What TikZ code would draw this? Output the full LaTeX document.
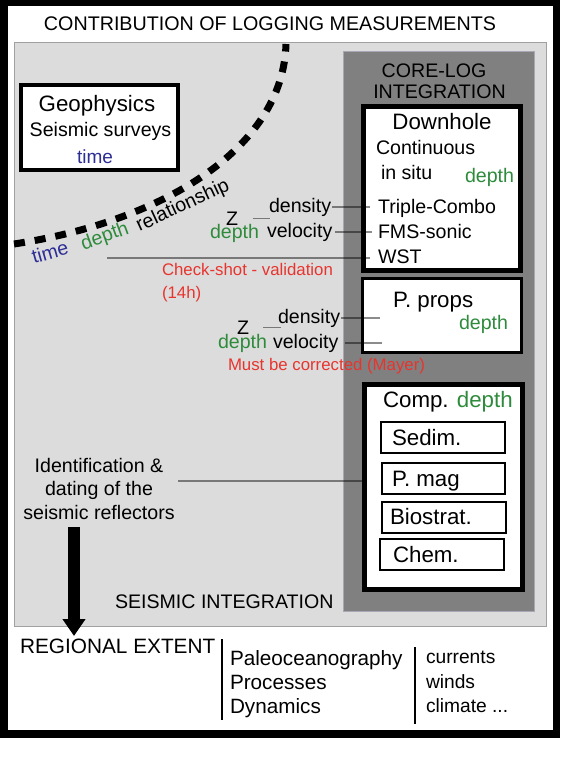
\documentclass[tikz,border=0pt]{standalone}
\usepackage{fontspec}
\setmainfont{Liberation Sans}
\usetikzlibrary{arrows.meta}
\definecolor{lgray}{HTML}{DCDCDC}
\definecolor{lgborder}{HTML}{A0A0A0}
\definecolor{dgray}{HTML}{808080}
\definecolor{dgborder}{HTML}{A8A8B4}
\definecolor{tblue}{HTML}{2D2D96}
\definecolor{tgreen}{HTML}{2E8B3C}
\definecolor{tred}{HTML}{E8342E}
\newcommand\fsz[1]{\fontsize{#1pt}{#1pt}\selectfont}
\begin{document}
\begin{tikzpicture}[x=1pt,y=-1pt,
  txt/.style={inner sep=0pt, outer sep=0pt, anchor=base west, font=\fsz{19.6}},
  ctxt/.style={inner sep=0pt, outer sep=0pt, anchor=base, font=\fsz{19.6}},
  head/.style={font=\fsz{22.3}},
  redtxt/.style={text=tred, font=\fsz{16.8}},
  box/.style={draw=black, fill=white, inner sep=0pt, outer sep=0pt},
  panel/.style={inner sep=0pt, outer sep=0pt, line width=1pt},
  conn/.style={draw=black, draw opacity=0.45, line width=1.2pt},
]
\useasboundingbox (0,0) rectangle (560,763);
\fill[white] (0,0) rectangle (560,763);
\fill[black] (0,0) rectangle (560,738);
\fill[white] (8,6) rectangle (553,730);

% panels
\node[panel, draw=lgborder, fill=lgray, minimum width=532pt, minimum height=584pt] (seis) at (280.5,334.5) {};
\node[panel, draw=dgborder, fill=dgray, minimum width=191pt, minimum height=560pt] (corelog) at (439,331.5) {};

% boxes
\node[box, line width=4pt, minimum width=157pt, minimum height=85pt] (geo) at (99.5,127.5) {};
\node[box, line width=5pt, minimum width=157pt, minimum height=164pt] (down) at (442,188.5) {};
\node[box, line width=3pt, minimum width=159pt, minimum height=74pt] (pprops) at (442,315.5) {};
\node[box, line width=5pt, minimum width=158pt, minimum height=205pt] (comp) at (443.5,487) {};
\node[box, line width=2pt, minimum width=124pt, minimum height=31pt] (sedbox) at (443,437.5) {};
\node[box, line width=2pt, minimum width=123pt, minimum height=31pt] (pmagbox) at (443.5,478.5) {};
\node[box, line width=2pt, minimum width=124pt, minimum height=31pt] (biobox) at (444,517.5) {};
\node[box, line width=2pt, minimum width=124pt, minimum height=31pt] (chembox) at (442,554.5) {};

% time-depth curve
\coordinate (tdA) at (14,244);
\coordinate (tdB) at (286,44);
\draw[line width=7pt, dash pattern=on 11pt off 10pt] (tdA) .. controls (160,222) and (283,150) .. (tdB);

% title and headings
\node[ctxt, font=\fsz{19.7}] (title) at (270,30) {CONTRIBUTION OF LOGGING MEASUREMENTS};
\node[ctxt, head] (geot) at (97,111) {Geophysics};
\node[ctxt] (seisurv) at (100.5,136) {Seismic surveys};
\node[ctxt, text=tblue, font=\fsz{19}] (geotime) at (95,163) {time};

\node[ctxt] (cl1) at (434,77) {CORE-LOG};
\node[ctxt] (cl2) at (439.5,98) {INTEGRATION};

\node[ctxt, head] (downt) at (442,129) {Downhole};
\node[txt] (cont) at (376,154) {Continuous};
\node[txt] (insitu) at (381,179) {in situ};
\node[txt, text=tgreen] (dhdepth) at (465,182) {depth};
\node[txt] (triple) at (378,213) {Triple-Combo};
\node[txt] (fms) at (378,238) {FMS-sonic};
\node[txt] (wst) at (378,263) {WST};

\node[txt, head] (ppt) at (393,307) {P. props};
\node[txt, text=tgreen] (ppdepth) at (459,329) {depth};

\node[txt, head] (compt) at (383,407) {Comp. \textcolor{tgreen}{depth}};
\node[txt, head] (sed) at (392,445) {Sedim.};
\node[txt, head] (pmag) at (392,486) {P. mag};
\node[txt, head] (bio) at (390,524) {Biostrat.};
\node[txt, head] (chem) at (393,562) {Chem.};

% rotated curve labels
\node[inner sep=0pt, text=tblue, font=\fsz{19.6}, rotate=16] (lbtime) at (50,252) {time};
\node[inner sep=0pt, text=tgreen, font=\fsz{19.6}, rotate=20] (lbdepth) at (105,237) {depth};
\node[inner sep=0pt, font=\fsz{19.6}, rotate=25] (lbrel) at (183,206) {relationship};

% first measurement group
\node[txt] (z1) at (226,225) {Z};
\node[txt, text=tgreen] (d1) at (210,238) {depth};
\node[txt] (dens1) at (269,212) {density};
\node[txt] (vel1) at (267,237) {velocity};
\node[txt, redtxt] (chk) at (162,275) {Check-shot - validation};
\node[txt, redtxt] (chk2) at (162,298) {(14h)};

% second measurement group
\node[txt] (z2) at (237,334) {Z};
\node[txt, text=tgreen] (d2) at (218,348) {depth};
\node[txt] (dens2) at (278,323) {density};
\node[txt] (vel2) at (273,348) {velocity};
\node[txt, redtxt] (mayer) at (228,370) {Must be corrected (Mayer)};

% identification
\node[ctxt] (id1) at (99,472) {Identification \&};
\node[ctxt] (id2) at (99,495) {dating of the};
\node[ctxt] (id3) at (99,519) {seismic reflectors};

\node[txt] (seisint) at (115,608) {SEISMIC INTEGRATION};
\node[txt, font=\fsz{20.8}] (regional) at (20,653) {REGIONAL EXTENT};

\node[txt, font=\fsz{20.7}] (paleo) at (230,665) {Paleoceanography};
\node[txt, font=\fsz{20.7}] (proc) at (230,689) {Processes};
\node[txt, font=\fsz{20.7}] (dyn) at (230,713) {Dynamics};
\node[txt, font=\fsz{19.2}] (curr) at (426,663) {currents};
\node[txt, font=\fsz{19.2}] (winds) at (426,688) {winds};
\node[txt, font=\fsz{19.2}] (clim) at (426,712) {climate ...};

% connectors
\coordinate (dhin) at (370,0);
\coordinate (dhin2) at (372,0);
\coordinate (ppin) at (380,0);
\coordinate (ppin2) at (382,0);
\coordinate (csA) at (107,258);
\coordinate (idA) at (178,481);
\draw[conn] ([xshift=1pt]dens1.east) -- (dens1.east -| dhin);
\draw[conn] ([xshift=3pt]vel1.east) -- (vel1.east -| dhin2);
\draw[conn] (csA) -- (csA -| dhin);
\draw[conn] ([xshift=15pt]z1.east) -- ++(17,0);
\draw[conn] ([xshift=1pt]dens2.east) -- (dens2.east -| ppin);
\draw[conn] ([xshift=7pt]vel2.east) -- (vel2.east -| ppin2);
\draw[conn] ([xshift=14pt]z2.east) -- ++(18,0);
\draw[conn] (idA) -- (idA -| comp.west);

% arrow to regional extent
\coordinate (arrtop) at (74,527);
\coordinate (arrtip) at (74,636);
\draw[line width=12pt, -{Triangle[width=22pt,length=17pt]}] (arrtop) -- (arrtip);

% separators
\coordinate (s1a) at (222,639);
\coordinate (s1b) at (222,720);
\coordinate (s2a) at (415,647);
\coordinate (s2b) at (415,724);
\draw[line width=2.5pt] (s1a) -- (s1b);
\draw[line width=2.5pt] (s2a) -- (s2b);
\end{tikzpicture}
\end{document}
